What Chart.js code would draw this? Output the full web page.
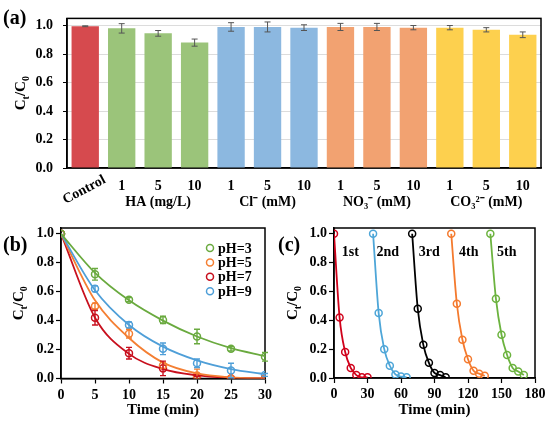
<!DOCTYPE html>
<html>
<head>
<meta charset="utf-8">
<script src="https://cdn.jsdelivr.net/npm/chart.js@4.4.1/dist/chart.umd.min.js"></script>
<style>
  body { margin: 0; background: #fff; }
  #wrap { position: relative; width: 550px; height: 422px; background: #fff; }
  canvas { position: absolute; }
</style>
</head>
<body>
<div id="wrap">
  <canvas id="chartA" width="550" height="214" style="left:0;top:0"></canvas>
  <canvas id="chartB" width="275" height="212" style="left:0;top:210px"></canvas>
  <canvas id="chartC" width="275" height="212" style="left:275px;top:210px"></canvas>
</div>
<script>
// ---- panel (a) data ----
const barCategories = ['Control', '1', '5', '10', '1', '5', '10', '1', '5', '10', '1', '5', '10'];
const barGroups = ['', '', 'HA (mg/L)', '', '', 'Cl\u207B (mM)', '', '', 'NO\u2083\u207B (mM)', '', '', 'CO\u2083\u00B2\u207B (mM)', ''];
const barValues = [0.995, 0.98, 0.945, 0.88, 0.99, 0.99, 0.985, 0.99, 0.99, 0.985, 0.985, 0.97, 0.935];
const barErrors = [0.003, 0.033, 0.02, 0.025, 0.03, 0.035, 0.02, 0.025, 0.025, 0.015, 0.015, 0.015, 0.02];
const barColors = ['#d64a4e', '#9bc47a', '#9bc47a', '#9bc47a', '#8cb8e0', '#8cb8e0', '#8cb8e0',
                   '#f2a271', '#f2a271', '#f2a271', '#fdd04e', '#fdd04e', '#fdd04e'];

// ---- panel (b) data ----
const phTimes = [0, 5, 10, 15, 20, 25, 30];
const ph3 = [1, 0.72, 0.545, 0.405, 0.29, 0.205, 0.15];
const ph3Err = [0, 0.04, 0.015, 0.025, 0.05, 0.015, 0.03];
const ph3Fit = [1, 0.73, 0.54, 0.40, 0.29, 0.21, 0.155];
const ph5 = [1, 0.50, 0.31, 0.09, 0.02, 0, 0];
const ph5Err = [0, 0.02, 0.03, 0.02, 0.045, 0, 0];
const ph5Fit = [1, 0.54, 0.28, 0.11, 0.035, 0.008, 0];
const ph7 = [1, 0.42, 0.175, 0.07, 0.005, 0, 0];
const ph7Err = [0, 0.05, 0.04, 0.05, 0.01, 0, 0];
const ph7Fit = [1, 0.42, 0.17, 0.065, 0.022, 0.006, 0];
const ph9 = [1, 0.62, 0.37, 0.205, 0.105, 0.055, 0.025];
const ph9Err = [0, 0.02, 0.02, 0.04, 0.03, 0.05, 0.01];
const ph9Fit = [1, 0.61, 0.37, 0.22, 0.125, 0.065, 0.03];

// ---- panel (c) data ----
const cycleNames = ['1st', '2nd', '3rd', '4th', '5th'];
const cycleTimes = [
  [0, 5, 10, 15, 20, 25, 30],
  [35, 40, 45, 50, 55, 60, 65],
  [70, 75, 80, 85, 90, 95, 100],
  [105, 110, 115, 120, 125, 130, 135],
  [140, 145, 150, 155, 160, 165, 170]
];
const cycleValues = [
  [1, 0.42, 0.18, 0.07, 0.02, 0.005, 0.005],
  [1, 0.45, 0.20, 0.085, 0.025, 0.01, 0.005],
  [1, 0.48, 0.23, 0.105, 0.035, 0.02, 0.005],
  [1, 0.515, 0.265, 0.13, 0.05, 0.03, 0.015],
  [1, 0.55, 0.30, 0.16, 0.07, 0.045, 0.02]
];
const cycleColors = ['#d0021b', '#4ea6d8', '#000000', '#f47a2e', '#6cb33f'];
const cycleLabelX = [7, 38, 76, 112, 146];

const FONT = '"Liberation Serif", "Times New Roman", serif';
Chart.defaults.font.family = FONT;
Chart.defaults.font.weight = 'bold';
Chart.defaults.color = '#000';
Chart.defaults.animation = false;

// black frame around the plot area
const frameBox = {
  id: 'frameBox',
  beforeDatasetsDraw(chart) {
    const { ctx, chartArea: a } = chart;
    ctx.save();
    ctx.strokeStyle = '#000';
    ctx.lineWidth = 1.5;
    ctx.strokeRect(a.left, a.top, a.right - a.left, a.bottom - a.top);
    ctx.restore();
  }
};

// error bars from dataset.errors
const errorBars = {
  id: 'errorBars',
  afterDatasetsDraw(chart) {
    const ctx = chart.ctx;
    const yScale = chart.scales.y;
    const a = chart.chartArea;
    chart.data.datasets.forEach((ds, di) => {
      if (!ds.errors) return;
      const meta = chart.getDatasetMeta(di);
      ctx.save();
      ctx.strokeStyle = ds.errorColor || ds.borderColor;
      ctx.lineWidth = ds.errorWidth || 1.2;
      meta.data.forEach((el, i) => {
        const e = ds.errors[i];
        if (!e) return;
        const raw = ds.data[i];
        const v = typeof raw === 'object' ? raw.y : raw;
        const top = yScale.getPixelForValue(v + e);
        const bot = Math.min(yScale.getPixelForValue(v - e), a.bottom);
        const x = el.x;
        ctx.beginPath();
        ctx.moveTo(x, top); ctx.lineTo(x, bot);
        ctx.moveTo(x - 3, top); ctx.lineTo(x + 3, top);
        if (bot < a.bottom) { ctx.moveTo(x - 3, bot); ctx.lineTo(x + 3, bot); }
        ctx.stroke();
      });
      ctx.restore();
    });
  }
};

function drawYTitle(ctx, x, y) {
  ctx.save();
  ctx.translate(x, y);
  ctx.rotate(-Math.PI / 2);
  const big = 'bold 15px ' + FONT, small = 'bold 10px ' + FONT;
  const parts = [['C', big, 0], ['t', small, 4], ['/C', big, 0], ['0', small, 4]];
  let w = 0;
  parts.forEach(p => { ctx.font = p[1]; w += ctx.measureText(p[0]).width; });
  let cx = -w / 2;
  ctx.fillStyle = '#000';
  ctx.textBaseline = 'alphabetic';
  parts.forEach(p => {
    ctx.font = p[1];
    ctx.fillText(p[0], cx, 5 + p[2]);
    cx += ctx.measureText(p[0]).width;
  });
  ctx.restore();
}

function panelDecor(letter, lx, ly, tx) {
  return {
    id: 'decor' + letter,
    afterDraw(chart) {
      const ctx = chart.ctx;
      const a = chart.chartArea;
      ctx.save();
      ctx.font = 'bold 20px ' + FONT;
      ctx.fillStyle = '#000';
      ctx.textBaseline = 'middle';
      ctx.fillText('(' + letter + ')', lx, ly);
      ctx.restore();
      drawYTitle(ctx, tx, (a.top + a.bottom) / 2);
    }
  };
}

// rotated "Control" label
const controlLabel = {
  id: 'controlLabel',
  afterDraw(chart) {
    const ctx = chart.ctx;
    const x = chart.scales.x.getPixelForValue(0);
    ctx.save();
    ctx.translate(x - 1, 190);
    ctx.rotate(-28 * Math.PI / 180);
    ctx.font = 'bold 14px ' + FONT;
    ctx.fillStyle = '#000';
    ctx.textAlign = 'center';
    ctx.textBaseline = 'middle';
    ctx.fillText(barCategories[0], 0, 0);
    ctx.restore();
  }
};

// legend for (b)
const phLegend = {
  id: 'phLegend',
  afterDraw(chart) {
    const ctx = chart.ctx;
    const rows = chart.data.datasets.filter(d => d.legend);
    ctx.save();
    rows.forEach((ds, i) => {
      const y = 38 + i * 14.4;
      ctx.beginPath();
      ctx.arc(210, y, 3.5, 0, Math.PI * 2);
      ctx.strokeStyle = ds.borderColor;
      ctx.lineWidth = 1.5;
      ctx.stroke();
      ctx.font = 'bold 14px ' + FONT;
      ctx.fillStyle = '#000';
      ctx.textBaseline = 'middle';
      ctx.fillText(ds.label, 218, y + 1);
    });
    ctx.restore();
  }
};

// cycle labels for (c)
const cycleText = {
  id: 'cycleText',
  afterDraw(chart) {
    const ctx = chart.ctx;
    const xs = chart.scales.x, ys = chart.scales.y;
    ctx.save();
    ctx.font = 'bold 14px ' + FONT;
    ctx.fillStyle = '#000';
    ctx.textBaseline = 'middle';
    cycleNames.forEach((n, i) => {
      ctx.fillText(n, xs.getPixelForValue(cycleLabelX[i]), ys.getPixelForValue(0.87));
    });
    ctx.restore();
  }
};

const lineAxisY = (width) => ({
  min: 0, max: 1.04,
  afterFit(s) { s.width = width; },
  grid: { drawOnChartArea: false, tickLength: 5, tickColor: '#000', tickWidth: 1.2 },
  border: { color: '#000', width: 1.5 },
  ticks: { stepSize: 0.2, includeBounds: false, padding: 2, font: { size: 14 },
           callback: v => v.toFixed(1) }
});
const lineAxisX = (max, step, height) => ({
  type: 'linear', min: 0, max: max,
  afterFit(s) { s.height = height; },
  grid: { drawOnChartArea: false, tickLength: 5, tickColor: '#000', tickWidth: 1.2 },
  border: { color: '#000', width: 1.5 },
  ticks: { stepSize: step, padding: 3, font: { size: 14 }, maxRotation: 0 },
  title: { display: true, text: 'Time (min)', font: { size: 15, weight: 'bold' }, padding: { top: 0, bottom: 3 } }
});

// ---- chart (a) ----
new Chart(document.getElementById('chartA'), {
  type: 'bar',
  data: {
    labels: barCategories,
    datasets: [{
      data: barValues,
      errors: barErrors,
      errorColor: '#555',
      errorWidth: 1,
      backgroundColor: barColors,
      borderWidth: 0,
      barPercentage: 0.75,
      categoryPercentage: 1
    }]
  },
  options: {
    responsive: false,
    layout: { padding: { left: 0, right: 9, top: 5, bottom: 0 } },
    plugins: { legend: { display: false }, tooltip: { enabled: false } },
    scales: {
      x: {
        afterFit(s) { s.height = 46; },
        grid: { display: false },
        border: { color: '#000', width: 1.5 },
        ticks: {
          maxRotation: 0, autoSkip: false, padding: 2,
          font: { size: 14, lineHeight: 1.15 },
          callback: (v, i) => [i === 0 ? '' : barCategories[i], barGroups[i]]
        }
      },
      y: {
        min: 0, max: 1.05,
        afterFit(s) { s.width = 67; },
        grid: { color: '#dcdcdc', lineWidth: 1, tickLength: 4, tickColor: '#000' },
        border: { color: '#000', width: 1.5 },
        ticks: { stepSize: 0.2, includeBounds: false, padding: 10, font: { size: 14 },
                 callback: v => v.toFixed(1) }
      }
    }
  },
  plugins: [frameBox, errorBars, controlLabel, panelDecor('a', 3, 19, 20)]
});

// ---- chart (b) ----
const markerSet = (label, vals, errs, color) => ({
  label: label, legend: true,
  data: phTimes.map((t, i) => ({ x: t, y: vals[i] })),
  errors: errs, errorWidth: 1.4,
  showLine: false, borderColor: color, backgroundColor: 'rgba(0,0,0,0)',
  pointRadius: 3.5, pointBorderWidth: 1.5, pointStyle: 'circle'
});
const fitSet = (vals, color) => ({
  data: phTimes.map((t, i) => ({ x: t, y: vals[i] })),
  showLine: true,
  borderColor: color, borderWidth: 1.8, pointRadius: 0,
  cubicInterpolationMode: 'monotone', fill: false
});
const phColors = ['#6aaa3f', '#f47f33', '#c8101e', '#4f9fd8'];

new Chart(document.getElementById('chartB'), {
  type: 'scatter',
  data: {
    datasets: [
      fitSet(ph3Fit, phColors[0]), fitSet(ph9Fit, phColors[3]),
      fitSet(ph5Fit, phColors[1]), fitSet(ph7Fit, phColors[2]),
      markerSet('pH=3', ph3, ph3Err, phColors[0]),
      markerSet('pH=5', ph5, ph5Err, phColors[1]),
      markerSet('pH=7', ph7, ph7Err, phColors[2]),
      markerSet('pH=9', ph9, ph9Err, phColors[3])
    ]
  },
  options: {
    responsive: false,
    layout: { padding: { left: 0, right: 9, top: 18, bottom: 0 } },
    plugins: { legend: { display: false }, tooltip: { enabled: false } },
    scales: { x: lineAxisX(30, 5, 43.5), y: lineAxisY(61) }
  },
  plugins: [frameBox, errorBars, phLegend, panelDecor('b', 3, 36, 18)]
});

// ---- chart (c) ----
new Chart(document.getElementById('chartC'), {
  type: 'scatter',
  data: {
    datasets: cycleNames.map((n, k) => ({
      label: n,
      data: cycleTimes[k].map((t, i) => ({ x: t, y: cycleValues[k][i] })),
      showLine: true,
      borderColor: cycleColors[k], backgroundColor: 'rgba(0,0,0,0)',
      borderWidth: 1.8, pointRadius: 3.5, pointBorderWidth: 1.5,
      cubicInterpolationMode: 'monotone'
    }))
  },
  options: {
    responsive: false,
    layout: { padding: { left: 0, right: 15, top: 18, bottom: 0 } },
    plugins: { legend: { display: false }, tooltip: { enabled: false } },
    scales: { x: lineAxisX(180, 30, 44), y: lineAxisY(59) }
  },
  plugins: [frameBox, cycleText, panelDecor('c', 3, 36, 17)]
});
</script>
</body>
</html>
